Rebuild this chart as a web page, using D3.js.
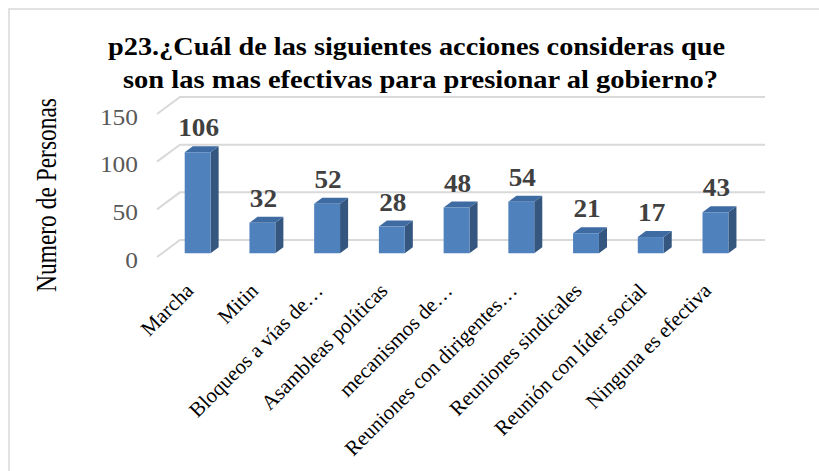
<!DOCTYPE html>
<html><head><meta charset="utf-8">
<script src="https://cdn.jsdelivr.net/npm/d3@7"></script>
<style>body{margin:0;background:#fff}svg{display:block}</style>
</head><body>
<script>
const categories = ["Marcha","Mitin","Bloqueos a vías de…","Asambleas políticas","mecanismos de…","Reuniones con dirigentes…","Reuniones sindicales","Reunión con líder social","Ninguna es efectiva"];
const values = [106,32,52,28,48,54,21,17,43];
const yTicks = [0,50,100,150];
const titleLines = ["p23.¿Cuál de las siguientes acciones consideras que","son las mas efectivas para presionar al gobierno?"];
const yAxisTitle = "Numero de Personas";

const W = 819, H = 471;
const svg = d3.select("body").append("svg").attr("width", W).attr("height", H);
svg.append("rect").attr("x",9).attr("y",9).attr("width",840).attr("height",480)
  .attr("fill","#fff").attr("stroke","#d9d9d9").attr("stroke-width",1.5);

const serif = "'Liberation Serif','DejaVu Serif',serif";
const DX = 23, DY = -17;
const x = d3.scaleBand().domain(categories).range([157, 746]).paddingInner(0.6).paddingOuter(0.35);
const y = d3.scaleLinear().domain([0,150]).range([257, 114]);
const P = (px, v, d) => [px + DX*d, y(v) + DY*d];

// gridlines
const grid = svg.append("g").attr("stroke","#d9d9d9").attr("stroke-width",2).attr("fill","none");
yTicks.forEach(t => {
  const a = P(157, t, 0), b = P(157, t, 1), c = P(742, t, 1);
  grid.append("path").attr("d", `M${a[0]},${a[1]}L${b[0]},${b[1]}L${c[0]},${c[1]}`);
});

// tick labels
svg.append("g").selectAll("text").data(yTicks).join("text")
  .attr("x", 138).attr("y", d => y(d) + 3).attr("text-anchor","end").attr("dominant-baseline","central")
  .attr("font-family", serif).attr("font-size", 23).attr("fill","#595959")
  .attr("textLength", d => String(d).length * 12.7).attr("lengthAdjust","spacingAndGlyphs")
  .text(d => d);

// axis title
svg.append("text").attr("transform","translate(56,195) rotate(-90)").attr("text-anchor","middle")
  .attr("font-family", serif).attr("font-size", 30).attr("fill","#000")
  .attr("textLength", 194).attr("lengthAdjust","spacingAndGlyphs").text(yAxisTitle);

// bars
const d0 = 0.22, d1 = 0.57;
const bars = svg.append("g");
categories.forEach((c, i) => {
  const v = values[i], xl = x(c), xr = x(c) + x.bandwidth();
  const pts = (arr) => arr.map(p => p.join(",")).join(" ");
  const fbl = P(xl,0,d0), fbr = P(xr,0,d0), ftl = P(xl,v,d0), ftr = P(xr,v,d0);
  const bbr = P(xr,0,d1), btl = P(xl,v,d1), btr = P(xr,v,d1);
  bars.append("polygon").attr("points", pts([fbr, ftr, btr, bbr])).attr("fill","#34567f");
  bars.append("polygon").attr("points", pts([ftl, ftr, btr, btl])).attr("fill","#3f6ba3");
  bars.append("polygon").attr("points", pts([fbl, fbr, ftr, ftl])).attr("fill","#4f81bd");
  const lx = (xl + xr)/2 + DX*d0 + 1;
  bars.append("text").attr("x", lx).attr("y", btl[1] - 10).attr("text-anchor","middle")
    .attr("font-family", serif).attr("font-weight","bold").attr("font-size", 25).attr("fill","#404040")
    .attr("textLength", String(v).length * 13.6).attr("lengthAdjust","spacingAndGlyphs").text(v);
  // category label
  const cx = (xl + xr)/2 + DX*d0 - 3;
  svg.append("text").attr("transform", `translate(${cx},292) rotate(-45)`).attr("text-anchor","end")
    .attr("font-family", serif).attr("font-size", 21).attr("fill","#000").text(c);
});

// title
const tl = svg.append("g");
[[titleLines[0], 416.5, 55, 617],[titleLines[1], 420.5, 88, 595]].forEach(([t, cx, by, len]) => {
  tl.append("text").attr("x", cx).attr("y", by).attr("text-anchor","middle")
    .attr("font-family", serif).attr("font-weight","bold").attr("font-size", 25).attr("fill","#000")
    .attr("textLength", len).attr("lengthAdjust","spacingAndGlyphs").text(t);
});
</script>
</body></html>
